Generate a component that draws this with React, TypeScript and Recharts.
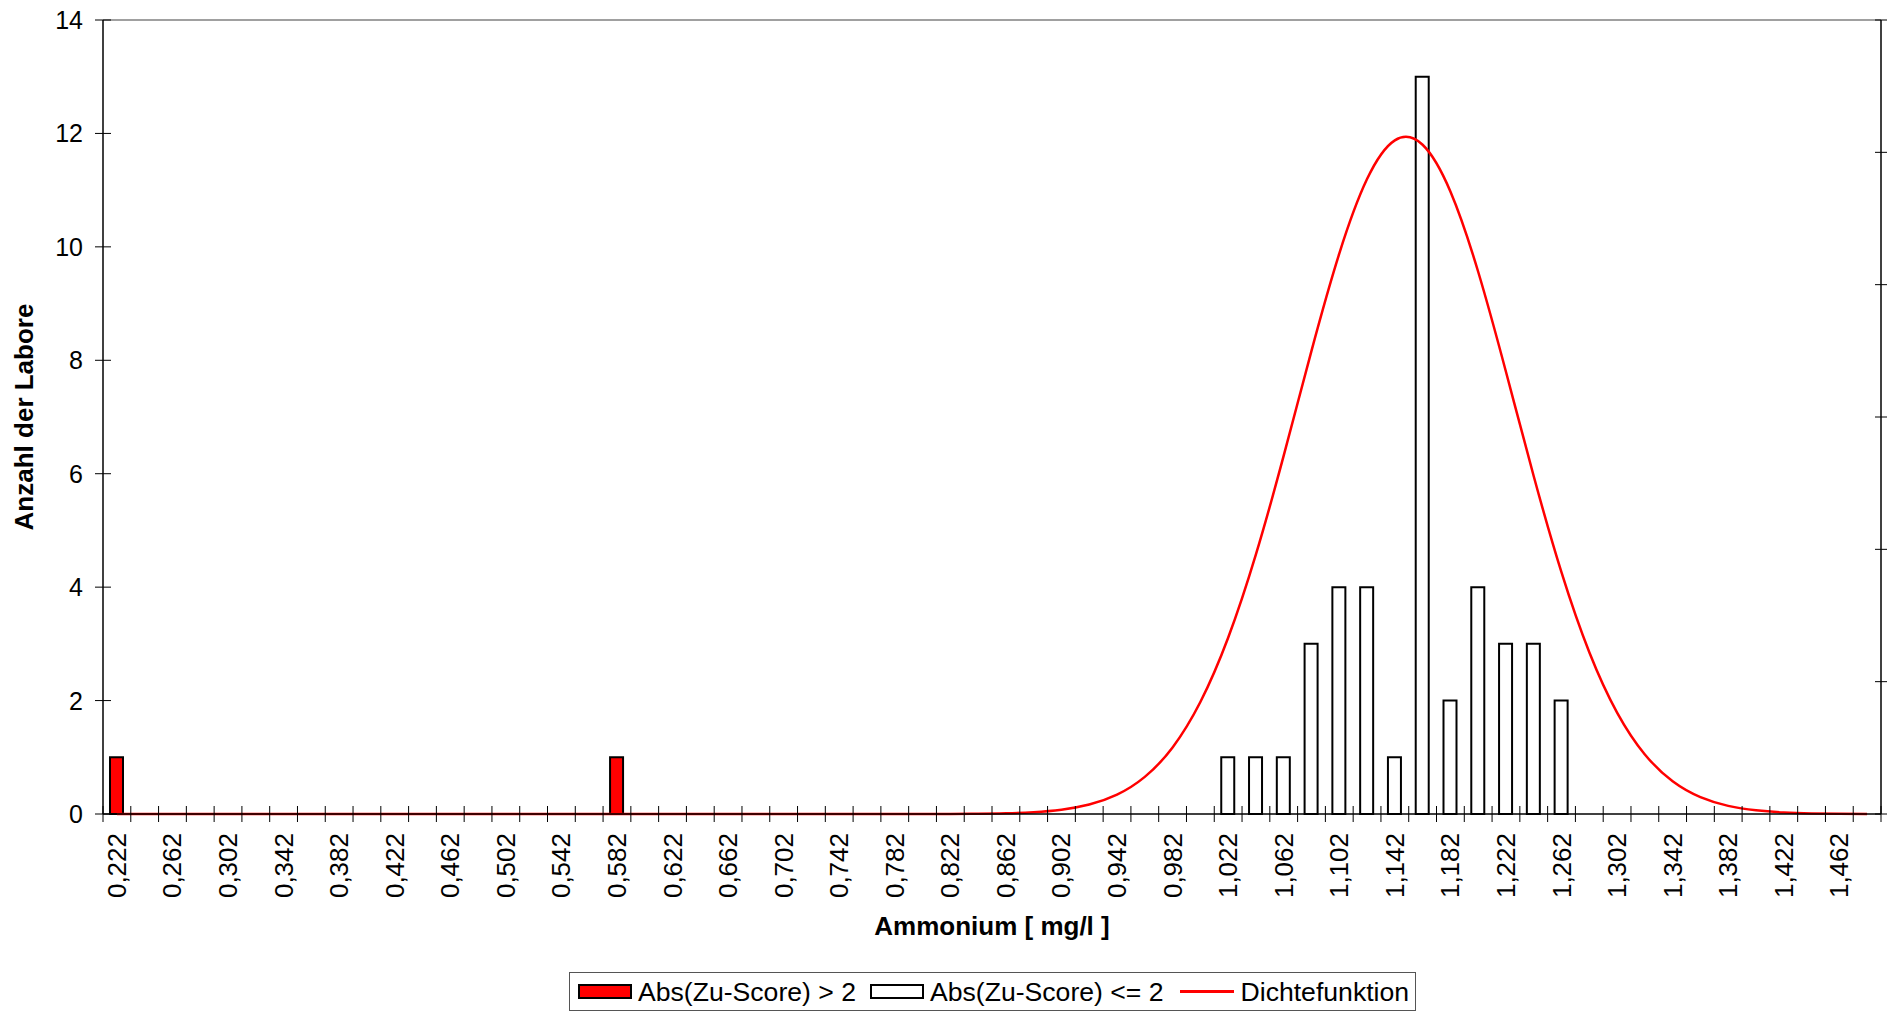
import { Bar, ComposedChart, Label, Line, ReferenceLine, XAxis, YAxis } from 'recharts';

const CATEGORIES = [
  '0,222', '0,242', '0,262', '0,282', '0,302', '0,322', '0,342', '0,362',
  '0,382', '0,402', '0,422', '0,442', '0,462', '0,482', '0,502', '0,522',
  '0,542', '0,562', '0,582', '0,602', '0,622', '0,642', '0,662', '0,682',
  '0,702', '0,722', '0,742', '0,762', '0,782', '0,802', '0,822', '0,842',
  '0,862', '0,882', '0,902', '0,922', '0,942', '0,962', '0,982', '1,002',
  '1,022', '1,042', '1,062', '1,082', '1,102', '1,122', '1,142', '1,162',
  '1,182', '1,202', '1,222', '1,242', '1,262', '1,282', '1,302', '1,322',
  '1,342', '1,362', '1,382', '1,402', '1,422', '1,442', '1,462', '1,482',
];

// Abs(Zu-Score) > 2
const OUTLIERS = [
  1, 0, 0, 0, 0, 0, 0, 0, 0, 0, 0, 0, 0, 0, 0, 0,
  0, 0, 1, 0, 0, 0, 0, 0, 0, 0, 0, 0, 0, 0, 0, 0,
  0, 0, 0, 0, 0, 0, 0, 0, 0, 0, 0, 0, 0, 0, 0, 0,
  0, 0, 0, 0, 0, 0, 0, 0, 0, 0, 0, 0, 0, 0, 0, 0,
];

// Abs(Zu-Score) <= 2
const INLIERS = [
  0, 0, 0, 0, 0, 0, 0, 0, 0, 0, 0, 0, 0, 0, 0, 0,
  0, 0, 0, 0, 0, 0, 0, 0, 0, 0, 0, 0, 0, 0, 0, 0,
  0, 0, 0, 0, 0, 0, 0, 0, 1, 1, 1, 3, 4, 4, 1, 13,
  2, 4, 3, 3, 2, 0, 0, 0, 0, 0, 0, 0, 0, 0, 0, 0,
];

// Dichtefunktion
const DENSITY = [
  0, 0, 0, 0, 0, 0, 0, 0, 0, 0, 0, 0, 0, 0, 0, 0,
  0, 0, 0, 0, 0, 0, 0, 0, 0, 0, 0, 0, 0.0002, 0.0006, 0.002, 0.005,
  0.013, 0.033, 0.076, 0.166, 0.341, 0.654, 1.174, 1.974, 3.107, 4.577, 6.318, 8.166, 9.88, 11.195, 11.878, 11.8,
  10.976, 9.561, 7.798, 5.956, 4.259, 2.852, 1.788, 1.05, 0.577, 0.297, 0.143, 0.065, 0.027, 0.011, 0.004, 0.001,
];

const LEFT_TICKS = [0, 2, 4, 6, 8, 10, 12, 14];
const RIGHT_TICKS = [0, 1, 2, 3, 4, 5, 6];

const rows = CATEGORIES.map((cat, i) => ({
  cat,
  out: OUTLIERS[i] || null,
  inl: INLIERS[i] || null,
  dens: DENSITY[i],
}));

const W = 1887;
const H = 1013;
const PLOT_LEFT = 103;
const PLOT_RIGHT = 1881;
const BAND = (PLOT_RIGHT - PLOT_LEFT) / CATEGORIES.length;
const FONT = "'Liberation Sans', Arial, sans-serif";

function XTick(props: any) {
  const { x, y, index, payload } = props;
  const lx = x - BAND / 2;
  const ty = y + 19;
  return (
    <g>
      <line x1={lx} x2={lx} y1={y - 8} y2={y + 8} stroke="#000" strokeWidth={1} />
      {index === CATEGORIES.length - 1 && (
        <line x1={x + BAND / 2} x2={x + BAND / 2} y1={y - 8} y2={y + 8} stroke="#000" strokeWidth={1} />
      )}
      {index % 2 === 0 && (
        <text
          x={x}
          y={ty}
          transform={`rotate(-90, ${x}, ${ty})`}
          textAnchor="end"
          dominantBaseline="central"
          fontSize={26}
          fill="#000"
        >
          {payload.value}
        </text>
      )}
    </g>
  );
}

function YTick(props: any) {
  const { x, y, payload } = props;
  return (
    <g>
      <line x1={x - 8} x2={x + 8} y1={y} y2={y} stroke="#000" strokeWidth={1} />
      <text x={x - 20} y={y} textAnchor="end" dominantBaseline="central" fontSize={25} fill="#000">
        {payload.value}
      </text>
    </g>
  );
}

function RightTick(props: any) {
  const { x, y } = props;
  return <line x1={x - 6} x2={x + 6} y1={y} y2={y} stroke="#000" strokeWidth={1} />;
}

function ChartLegend() {
  const text = { fontSize: 26.6, color: '#000', lineHeight: '30px', whiteSpace: 'nowrap' as const };
  return (
    <div
      style={{
        position: 'absolute',
        left: 569,
        top: 972,
        width: 847,
        height: 39,
        boxSizing: 'border-box',
        border: '1px solid #555',
        background: '#fff',
        display: 'flex',
        alignItems: 'center',
        paddingLeft: 8,
      }}
    >
      <span style={{ width: 54, height: 15, boxSizing: 'border-box', background: '#ff0000', border: '2px solid #000' }} />
      <span style={{ ...text, marginLeft: 6 }}>Abs(Zu-Score) &gt; 2</span>
      <span style={{ width: 54, height: 15, boxSizing: 'border-box', background: '#fff', border: '2px solid #000', marginLeft: 14 }} />
      <span style={{ ...text, marginLeft: 6 }}>Abs(Zu-Score) &lt;= 2</span>
      <span style={{ width: 54, height: 2.5, background: '#ff0000', marginLeft: 16 }} />
      <span style={{ ...text, marginLeft: 7 }}>Dichtefunktion</span>
    </div>
  );
}

export default function App() {
  return (
    <div style={{ position: 'absolute', left: 0, top: 0, width: W, height: H, background: '#fff', fontFamily: FONT }}>
      <ComposedChart width={W} height={H} data={rows} margin={{ top: 20, right: 0, bottom: 0, left: 0 }}>
        <XAxis
          dataKey="cat"
          interval={0}
          height={H - 814}
          tickLine={false}
          tickSize={0}
          tickMargin={0}
          axisLine={{ stroke: '#000', strokeWidth: 1.5 }}
          tick={<XTick />}
        >
          <Label
            value="Ammonium [ mg/l ]"
            position="insideBottom"
            offset={78}
            style={{ fontSize: 26, fontWeight: 'bold', fill: '#000' }}
          />
        </XAxis>
        <YAxis
          yAxisId="left"
          width={PLOT_LEFT}
          domain={[0, 14]}
          ticks={LEFT_TICKS}
          interval={0}
          tickLine={false}
          tickSize={0}
          tickMargin={0}
          axisLine={{ stroke: '#000', strokeWidth: 1.5 }}
          tick={<YTick />}
        >
          <Label
            value="Anzahl der Labore"
            angle={-90}
            position="insideLeft"
            offset={24}
            style={{ fontSize: 26, fontWeight: 'bold', fill: '#000', textAnchor: 'middle' }}
          />
        </YAxis>
        <YAxis
          yAxisId="right"
          orientation="right"
          width={W - PLOT_RIGHT}
          domain={[0, 6]}
          allowDataOverflow
          ticks={RIGHT_TICKS}
          interval={0}
          tickLine={false}
          tickSize={0}
          tickMargin={0}
          axisLine={{ stroke: '#000', strokeWidth: 1.5 }}
          tick={<RightTick />}
        />
        <ReferenceLine yAxisId="left" y={14} stroke="#808080" strokeWidth={1.5} />
        <Bar
          yAxisId="left"
          dataKey="out"
          stackId="h"
          barSize={13}
          fill="#ff0000"
          stroke="#000"
          strokeWidth={2}
          isAnimationActive={false}
        />
        <Bar
          yAxisId="left"
          dataKey="inl"
          stackId="h"
          barSize={13}
          fill="#ffffff"
          stroke="#000"
          strokeWidth={2}
          isAnimationActive={false}
        />
        <Line
          yAxisId="left"
          dataKey="dens"
          type="natural"
          stroke="#ff0000"
          strokeWidth={2.5}
          dot={false}
          activeDot={false}
          isAnimationActive={false}
        />
      </ComposedChart>
      <ChartLegend />
    </div>
  );
}
